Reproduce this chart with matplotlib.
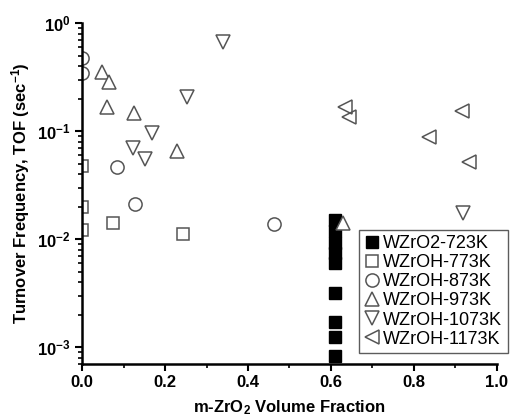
import matplotlib
matplotlib.use('Agg')
import matplotlib.pyplot as plt
from matplotlib.ticker import MultipleLocator, LogLocator, FixedLocator

plt.rcParams['font.family'] = ['Liberation Sans', 'DejaVu Sans']
plt.rcParams['mathtext.fontset'] = 'custom'
plt.rcParams['mathtext.rm'] = 'Liberation Sans:bold'
plt.rcParams['mathtext.it'] = 'Liberation Sans:bold'
plt.rcParams['mathtext.bf'] = 'Liberation Sans:bold'

# WZrO2-723K (filled squares)
x_723 = [0.61, 0.61, 0.61, 0.61, 0.61, 0.61, 0.61, 0.61, 0.61]
y_723 = [0.015, 0.0119, 0.0092, 0.0074, 0.0061, 0.0032, 0.0017, 0.00126, 0.00084]

# WZrOH-773K (open squares)
x_773 = [0.0, 0.0, 0.0, 0.075, 0.243]
y_773 = [0.048, 0.0198, 0.0121, 0.0141, 0.0111]

# WZrOH-873K (circles)
x_873 = [0.0, 0.0, 0.084, 0.128, 0.463]
y_873 = [0.48, 0.344, 0.0465, 0.021, 0.0138]

# WZrOH-973K (up triangles)
x_973 = [0.048, 0.065, 0.06, 0.125, 0.229, 0.629]
y_973 = [0.35, 0.285, 0.167, 0.147, 0.065, 0.0141]

# WZrOH-1073K (down triangles)
x_1073 = [0.34, 0.253, 0.169, 0.123, 0.152, 0.918]
y_1073 = [0.667, 0.206, 0.096, 0.0697, 0.055, 0.0174]

# WZrOH-1173K (left triangles)
x_1173 = [0.634, 0.643, 0.916, 0.836, 0.933]
y_1173 = [0.167, 0.135, 0.153, 0.088, 0.0516]

x_ticks = [0.0, 0.2, 0.4, 0.6, 0.8, 1.0]
x_ticklabels = ['0.0', '0.2', '0.4', '0.6', '0.8', '1.0']
y_ticks = [1e-3, 1e-2, 1e-1, 1e0]
y_ticklabels = ['$10^{-3}$', '$10^{-2}$', '$10^{-1}$', '$10^{0}$']

fig = plt.figure(figsize=(5.16, 4.2), dpi=100)
ax = fig.add_axes([0.159, 0.133, 0.804, 0.812])

edge = '#555555'
ms = 9.5
ax.plot(x_723, y_723, 's', color='black', markersize=8, linestyle='none',
        label='WZrO2-723K', zorder=3)
ax.plot(x_773, y_773, 's', mfc='white', mec=edge, mew=1.1, markersize=ms - 1,
        linestyle='none', label='WZrOH-773K')
ax.plot(x_873, y_873, 'o', mfc='white', mec=edge, mew=1.1, markersize=ms,
        linestyle='none', label='WZrOH-873K')
ax.plot(x_973, y_973, '^', mfc='white', mec=edge, mew=1.1, markersize=ms + 1,
        linestyle='none', label='WZrOH-973K', zorder=4)
ax.plot(x_1073, y_1073, 'v', mfc='white', mec=edge, mew=1.1, markersize=ms + 1,
        linestyle='none', label='WZrOH-1073K')
ax.plot(x_1173, y_1173, '<', mfc='none', mec=edge, mew=1.1, markersize=ms + 1,
        linestyle='none', label='WZrOH-1173K')

ax.set_yscale('log')
ax.set_xlim(0, 1.0)
ax.set_ylim(7e-4, 1.0)

ax.spines['top'].set_visible(False)
ax.spines['right'].set_visible(False)
ax.spines['left'].set_linewidth(1.8)
ax.spines['bottom'].set_linewidth(1.8)

ax.xaxis.set_major_locator(FixedLocator(x_ticks))
ax.xaxis.set_minor_locator(MultipleLocator(0.1))
ax.set_xticklabels(x_ticklabels)
ax.yaxis.set_major_locator(FixedLocator(y_ticks))
ax.yaxis.set_minor_locator(LogLocator(base=10, subs=range(2, 10), numticks=20))
ax.set_yticklabels(y_ticklabels)

ax.tick_params(which='major', direction='out', length=5, width=1.5,
               labelsize=12, pad=3)
ax.tick_params(which='minor', direction='out', length=3, width=1.2)
for lbl in ax.get_xticklabels():
    lbl.set_fontweight('bold')

ax.set_xlabel('m-ZrO$_2$ Volume Fraction', fontsize=12, fontweight='bold',
              labelpad=6)
ax.set_ylabel('Turnover Frequency, TOF (sec$^{-1}$)', fontsize=12,
              fontweight='bold', labelpad=4)

leg = ax.legend(loc='lower right', bbox_to_anchor=(1.026, 0.032),
                fontsize=13, frameon=True, fancybox=False,
                handlelength=0.8, handletextpad=0.25, labelspacing=0.12,
                borderpad=0.3, borderaxespad=0)
leg.get_frame().set_edgecolor('#333333')
leg.get_frame().set_linewidth(1.0)

plt.savefig('out.png', dpi=100)
